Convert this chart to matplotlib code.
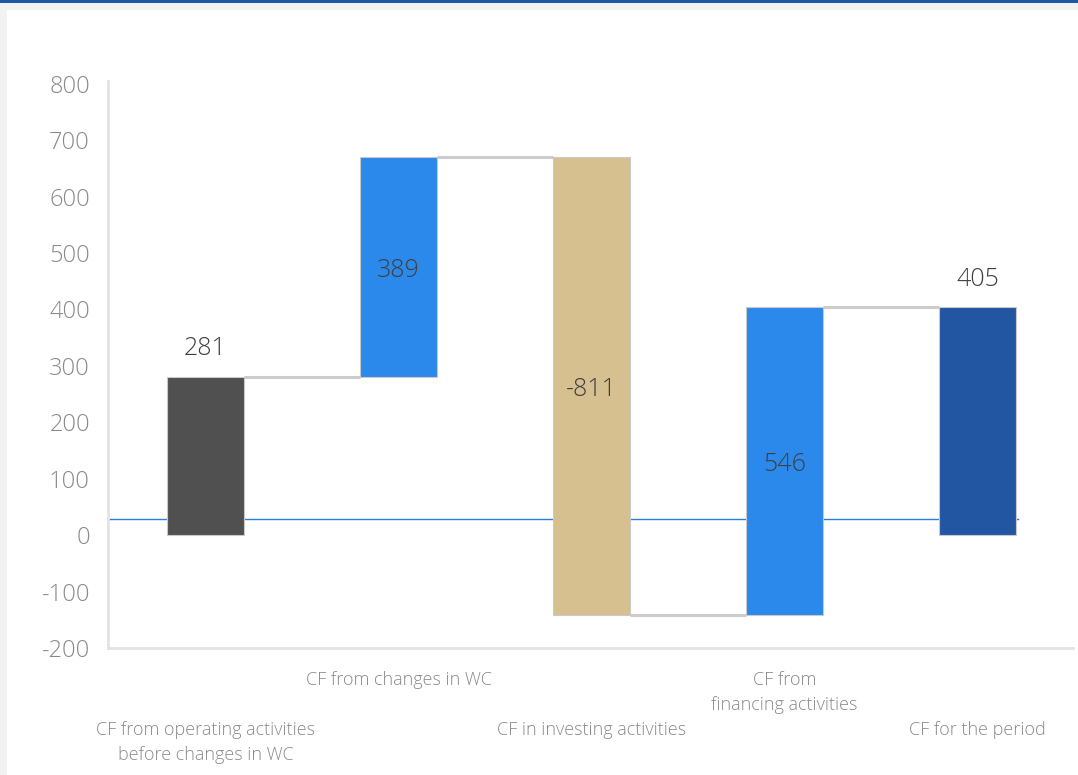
import matplotlib
matplotlib.use("Agg")
import matplotlib.pyplot as plt
from matplotlib.patches import Rectangle

# Cash flow waterfall data
categories = [
    "CF from operating activities\nbefore changes in WC",
    "CF from changes in WC",
    "CF in investing activities",
    "CF from\nfinancing activities",
    "CF for the period",
]
values = [281, 389, -811, 546, 405]
is_total = [True, False, False, False, True]
bar_colors = ["#505050", "#2b89eb", "#d6c090", "#2b89eb", "#2356a2"]
reference_level = 28
y_ticks = [-200, -100, 0, 100, 200, 300, 400, 500, 600, 700, 800]

FONT = ["Open Sans", "DejaVu Sans"]
plt.rcParams["font.family"] = FONT
WEIGHT = "light"

W, H = 1078, 775
fig = plt.figure(figsize=(W / 100, H / 100), dpi=100)
fig.patch.set_facecolor("#f2f2f2")

# white card and top accent band
fig.add_artist(Rectangle((7 / W, 0), 1, 1 - 10 / H, transform=fig.transFigure,
                         facecolor="white", edgecolor="none", zorder=0))
fig.add_artist(Rectangle((0, 1 - 2.5 / H), 1, 2.5 / H, transform=fig.transFigure,
                         facecolor="#2356a2", edgecolor="none", zorder=0))

left, right, top, bottom = 108, 1073, 81, 648
ax = fig.add_axes([left / W, 1 - bottom / H, (right - left) / W, (bottom - top) / H])
ax.set_facecolor("none")

width = 0.4
x = list(range(len(values)))

# compute bar spans
bottoms, tops, ends = [], [], []
running = 0
for v, tot in zip(values, is_total):
    if tot:
        b, t = 0, v
        running = v
    else:
        b, t = running, running + v
        running = t
    bottoms.append(min(b, t))
    tops.append(max(b, t))
    ends.append(running)

# thin reference line
ax.plot([-0.505, x[-1] + width / 2 + 0.01], [reference_level, reference_level],
        color="#2b7de0", lw=1.0, zorder=1)

for i, (v, b, t) in enumerate(zip(values, bottoms, tops)):
    ax.bar(x[i], t - b, bottom=b, width=width, color=bar_colors[i],
           edgecolor="#c9c9c9", linewidth=0.8, zorder=3)
    if is_total[i]:
        ypos = t + 49
    else:
        ypos = (b + t) / 2 - 6
    ax.text(x[i], ypos, f"{v}", ha="center", va="center", fontsize=18,
            fontweight=WEIGHT, color="#404040", zorder=5)

# connectors between bars
for i in range(len(values) - 1):
    ax.plot([x[i] + width / 2, x[i + 1] - width / 2], [ends[i], ends[i]],
            color="#cccccc", lw=2.2, zorder=2, solid_capstyle="butt")

ax.set_xlim(-0.505, len(values) - 0.505)
ax.set_ylim(-200, 805)
ax.set_yticks(y_ticks)
ax.set_yticklabels([str(t) for t in y_ticks])
ax.tick_params(axis="y", length=0, pad=13, labelsize=17, labelcolor="#8a8a8a")
for lbl in ax.get_yticklabels():
    lbl.set_fontweight(WEIGHT)
ax.set_xticks([])

for s in ["top", "right"]:
    ax.spines[s].set_visible(False)
for s in ["left", "bottom"]:
    ax.spines[s].set_color("#e3e3e3")
    ax.spines[s].set_linewidth(2)

# staggered category labels, one text per line
for i, lab in enumerate(categories):
    ypix = 680 if i % 2 == 1 else 730
    xf = (left + (x[i] + 0.505) / len(values) * (right - left)) / W
    for k, line in enumerate(lab.split("\n")):
        fig.text(xf, 1 - (ypix + 25 * k) / H, line, ha="center", va="center",
                 fontsize=13, fontweight=WEIGHT, color="#8a8a8a")

fig.savefig("out.png", dpi=100)
